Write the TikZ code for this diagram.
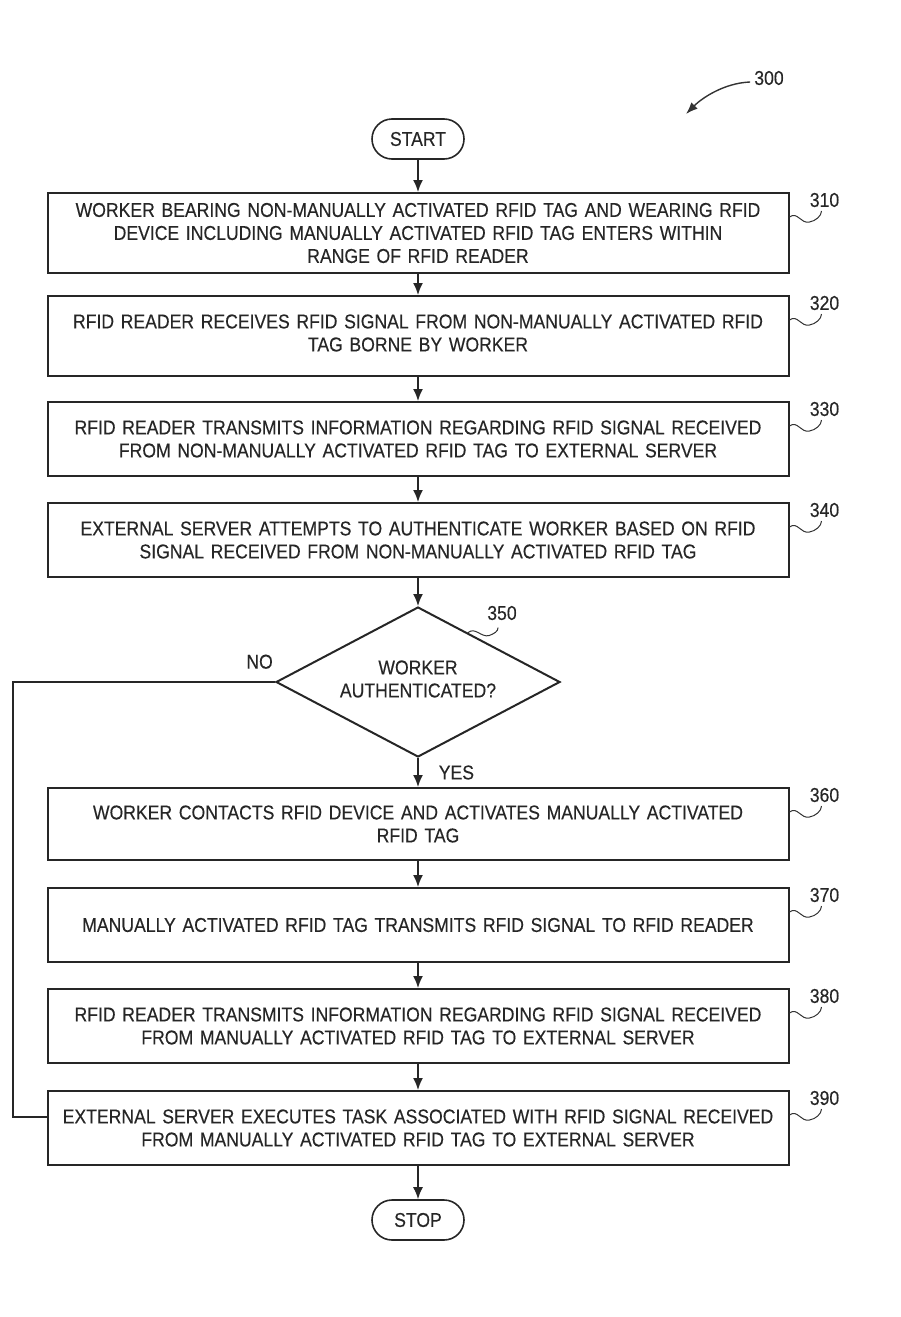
\documentclass[tikz,border=0pt]{standalone}
\usepackage{fontspec}
\newfontfamily\chartfont{Liberation Sans}[FakeStretch=0.88,FakeBold=0.3,WordSpace=0.85]
\usetikzlibrary{shapes.geometric,arrows.meta,calc}

\tikzset{
    stepbox/.style={draw=black!85, line width=2pt, text=black!85, minimum width=741pt,
        minimum height=74pt, text width=720pt, align=center, inner sep=0pt},
    termbox/.style={draw=black!85, line width=1.6pt, text=black!85, rounded corners=20pt,
        minimum width=92pt, minimum height=40pt, inner sep=0pt},
    decision/.style={diamond, aspect=2, draw=black!85, line width=2pt, text=black!85, align=center,
        minimum width=284pt, minimum height=150pt, inner sep=0pt},
    flow/.style={draw=black!85, line width=1.6pt, -{Latex[length=12pt,width=10pt]}},
    refline/.style={draw=black!80, line width=1pt},
    reflabel/.style={text=black!85, inner sep=0pt},
}

\begin{document}
\begin{tikzpicture}[x=1pt, y=1pt, font=\chartfont\fontsize{20}{23}\selectfont]
    \useasboundingbox (0,0) rectangle (900,-1317);

    % terminators, steps and decision
    \node[termbox] (start) at (418,-139) {START};
    \node[stepbox, minimum height=80pt] (s310) at (418,-233) {WORKER BEARING NON-MANUALLY ACTIVATED RFID TAG AND WEARING RFID\\DEVICE INCLUDING MANUALLY ACTIVATED RFID TAG ENTERS WITHIN\\RANGE OF RFID READER};
    \node[stepbox, minimum height=80pt] (s320) at (418,-336) {RFID READER RECEIVES RFID SIGNAL FROM NON-MANUALLY ACTIVATED RFID\\TAG BORNE BY WORKER\vspace{6pt}};
    \node[stepbox] (s330) at (418,-439) {RFID READER TRANSMITS INFORMATION REGARDING RFID SIGNAL RECEIVED\\FROM NON-MANUALLY ACTIVATED RFID TAG TO EXTERNAL SERVER};
    \node[stepbox] (s340) at (418,-540) {EXTERNAL SERVER ATTEMPTS TO AUTHENTICATE WORKER BASED ON RFID\\SIGNAL RECEIVED FROM NON-MANUALLY ACTIVATED RFID TAG};
    \node[decision] (d350) at (418,-682) {WORKER\\AUTHENTICATED?\vspace{6pt}};
    \node[stepbox, minimum height=72pt] (s360) at (418,-824) {WORKER CONTACTS RFID DEVICE AND ACTIVATES MANUALLY ACTIVATED\\RFID TAG};
    \node[stepbox] (s370) at (418,-925) {MANUALLY ACTIVATED RFID TAG TRANSMITS RFID SIGNAL TO RFID READER};
    \node[stepbox] (s380) at (418,-1026) {RFID READER TRANSMITS INFORMATION REGARDING RFID SIGNAL RECEIVED\\FROM MANUALLY ACTIVATED RFID TAG TO EXTERNAL SERVER};
    \node[stepbox] (s390) at (418,-1128) {EXTERNAL SERVER EXECUTES TASK ASSOCIATED WITH RFID SIGNAL RECEIVED\\FROM MANUALLY ACTIVATED RFID TAG TO EXTERNAL SERVER};
    \node[termbox] (stop) at (418,-1220) {STOP};

    % main flow
    \foreach \a/\b in {start/s310,s310/s320,s320/s330,s330/s340,s340/d350,s360/s370,s370/s380,s380/s390,s390/stop}
        \draw[flow] (\a) -- (\b);
    \draw[flow] (d350) -- node[reflabel, anchor=west, xshift=20pt] {YES} (s360);

    % no branch
    \coordinate (noturn) at (13,-682);
    \draw[draw=black!85, line width=1.6pt] (d350.west) -- (noturn) |- ([yshift=11pt]s390.west);
    \node[reflabel, anchor=south east, xshift=-2pt, yshift=13pt] (nolabel) at (d350.west) {NO};

    % reference numerals
    \foreach \n in {310,320,330,340,360,370,380,390}{
        \draw[refline] ([yshift=-25pt]s\n.north east) .. controls +(8,6) and +(-9,-2) .. ++(20,-5)
            .. controls +(6,1) and +(0,-5) .. ++(12,11);
        \node[reflabel] (n\n) at ([xshift=35pt,yshift=-8pt]s\n.north east) {\n};
    }
    \coordinate (q350) at ($(d350.north)!.35!(d350.east)$);
    \draw[refline] (q350) .. controls +(7,6) and +(-8,-2) .. ++(21,-3)
        .. controls +(5,2) and +(0,-4) .. ++(9,8);
    \node[reflabel] (n350) at (502,-613) {350};

    % figure number
    \node[reflabel] (n300) at (769,-78) {300};
    \coordinate (figtip) at (686,-114);
    \draw[refline, line width=1.4pt, -{Latex[length=12pt,width=9pt]}] ([xshift=-4pt,yshift=-4pt]n300.west)
        .. controls +(-26,-1) and +(16,16) .. (figtip);
\end{tikzpicture}
\end{document}
